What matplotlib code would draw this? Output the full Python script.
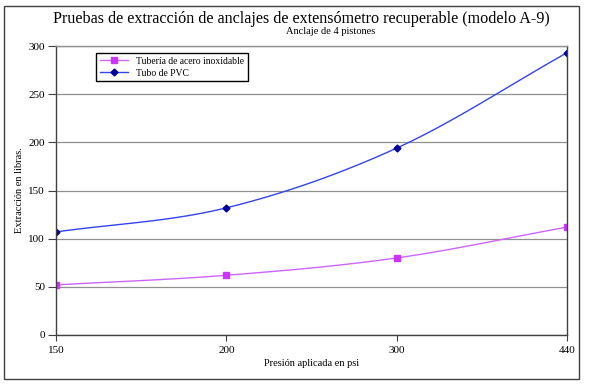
import numpy as np
import matplotlib
matplotlib.use("Agg")
import matplotlib.pyplot as plt
from matplotlib.patches import Rectangle

plt.rcParams['font.family'] = ['Liberation Serif', 'DejaVu Serif']

presion = ["150", "200", "300", "440"]
acero = [52, 62, 80, 112]
pvc = [107, 132, 194, 293]


def smooth(xs, ys, n=30):
    # Catmull-Rom style smoothing like Excel's smoothed line
    xs = np.asarray(xs, float)
    ys = np.asarray(ys, float)
    px = np.concatenate([[2 * xs[0] - xs[1]], xs, [2 * xs[-1] - xs[-2]]])
    py = np.concatenate([[2 * ys[0] - ys[1]], ys, [2 * ys[-1] - ys[-2]]])
    ox, oy = [], []
    t = np.linspace(0, 1, n)
    for i in range(1, len(px) - 2):
        for p, out in ((px, ox), (py, oy)):
            p0, p1, p2, p3 = p[i - 1], p[i], p[i + 1], p[i + 2]
            c1 = p1 + (p2 - p0) / 6
            c2 = p2 - (p3 - p1) / 6
            out.extend((1 - t) ** 3 * p1 + 3 * (1 - t) ** 2 * t * c1 + 3 * (1 - t) * t ** 2 * c2 + t ** 3 * p2)
    return ox, oy


W, H = 592, 388
fig = plt.figure(figsize=(W / 100, H / 100), dpi=100)
fig.patches.append(Rectangle((4 / W, 1 - 379 / H), 575 / W, 373 / H, transform=fig.transFigure,
                             fill=False, edgecolor="#404040", linewidth=1.0))
ax = fig.add_axes([56 / W, 1 - 335 / H, 511 / W, 289 / H])

x = np.arange(len(presion))
sx, sy = smooth(x, acero)
ax.plot(sx, sy, color="#CC66FF", linewidth=1.0)
ax.plot(x, acero, linestyle="none", marker="s", markersize=4, color="#CC33FF")
sx, sy = smooth(x, pvc)
ax.plot(sx, sy, color="#3344EE", linewidth=1.0)
ax.plot(x, pvc, linestyle="none", marker="D", markersize=3.5, color="#000099")

ax.set_xlim(0, 3)
ax.set_ylim(0, 300)
ax.set_xticks(x)
ax.set_xticklabels(presion)
ax.set_yticks(range(0, 301, 50))
ax.yaxis.grid(True, color="#909090", linewidth=0.9)
ax.set_axisbelow(True)
ax.tick_params(labelsize=8, color="#404040")
ax.tick_params(axis="y", length=6, pad=2)
ax.tick_params(axis="x", length=4, pad=4)
for s in ax.spines.values():
    s.set_color("#404040")
    s.set_linewidth(1.0)
ax.spines["top"].set_color("#909090")

ax.set_xlabel("Presión aplicada en psi", fontsize=7.5, labelpad=3)
ax.set_ylabel("Extracción en libras.", fontsize=7.5, labelpad=3)

fig.text(301 / W, 1 - 19 / H, "Pruebas de extracción de anclajes de extensómetro recuperable (modelo A-9)",
         ha="center", va="center", fontsize=11.6)
fig.text(331 / W, 1 - 32 / H, "Anclaje de 4 pistones", ha="center", va="center", fontsize=7.5)

h1, = ax.plot([], [], color="#CC66FF", marker="s", markersize=4, markerfacecolor="#CC33FF",
              markeredgecolor="#CC33FF", linewidth=1.0)
h2, = ax.plot([], [], color="#3344EE", marker="D", markersize=3.5, markerfacecolor="#000099",
              markeredgecolor="#000099", linewidth=1.0)
leg = ax.legend([h1, h2], ["Tubería de acero inoxidable", "Tubo de PVC"], loc="upper left",
                bbox_to_anchor=(35 / 511, 1 - 2 / 289), fontsize=6.9, frameon=True, fancybox=False,
                edgecolor="black", framealpha=1, borderpad=0.4, handlelength=3, labelspacing=0.3)
leg.get_frame().set_linewidth(1.0)

fig.savefig("out.png", dpi=100)
